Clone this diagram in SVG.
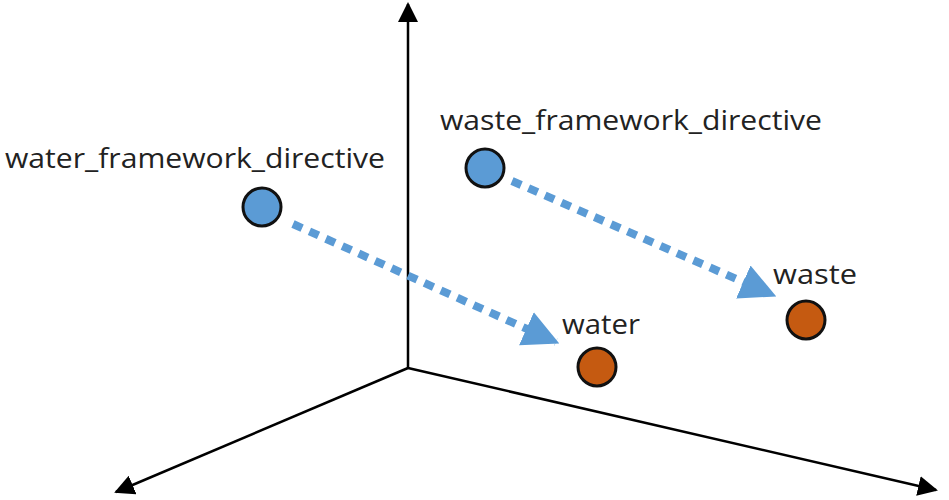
<svg xmlns="http://www.w3.org/2000/svg" width="949" height="500" viewBox="0 0 949 500">
  <style>
    .axis { stroke: #000; stroke-width: 2.5; fill: none; }
    .link { stroke: #5B9BD5; stroke-width: 8; stroke-dasharray: 10 8; fill: none; }
    .term { fill: #5B9BD5; stroke: #111; stroke-width: 3; }
    .word { fill: #C55A11; stroke: #111; stroke-width: 3; }
    .label { font-family: "Open Sans", "Liberation Sans", sans-serif; font-size: 28px; fill: #222; }
  </style>
  <defs>
    <marker id="axisHead" viewBox="0 0 10 10" refX="9" refY="5" markerWidth="8" markerHeight="8" markerUnits="strokeWidth" orient="auto">
      <path d="M0,0 L10,5 L0,10 Z" fill="#000"/>
    </marker>
    <marker id="linkHead" viewBox="0 0 10 10" refX="9" refY="5" markerWidth="4.5" markerHeight="5" markerUnits="strokeWidth" orient="auto">
      <path d="M0,0 L10,5 L0,10 Z" fill="#5B9BD5"/>
    </marker>
  </defs>

  <g id="axes">
    <line class="axis" x1="408" y1="368" x2="408" y2="4" marker-end="url(#axisHead)"/>
    <line class="axis" x1="408" y1="368" x2="116" y2="492" marker-end="url(#axisHead)"/>
    <line class="axis" x1="408" y1="368" x2="936" y2="490" marker-end="url(#axisHead)"/>
  </g>

  <g id="connectors">
    <line class="link" x1="293" y1="224" x2="556" y2="342" marker-end="url(#linkHead)"/>
    <line class="link" x1="512" y1="181" x2="773" y2="295" marker-end="url(#linkHead)"/>
  </g>

  <g id="water_framework_directive">
    <circle class="term" cx="262" cy="207" r="19"/>
    <text class="label" x="5" y="168" textLength="380" lengthAdjust="spacingAndGlyphs">water_framework_directive</text>
  </g>

  <g id="waste_framework_directive">
    <circle class="term" cx="485" cy="168" r="19"/>
    <text class="label" x="440" y="130" textLength="382" lengthAdjust="spacingAndGlyphs">waste_framework_directive</text>
  </g>

  <g id="water">
    <circle class="word" cx="597" cy="367" r="19"/>
    <text class="label" x="562" y="334" textLength="78" lengthAdjust="spacingAndGlyphs">water</text>
  </g>

  <g id="waste">
    <circle class="word" cx="806" cy="320" r="19"/>
    <text class="label" x="773" y="284" textLength="84" lengthAdjust="spacingAndGlyphs">waste</text>
  </g>
</svg>
